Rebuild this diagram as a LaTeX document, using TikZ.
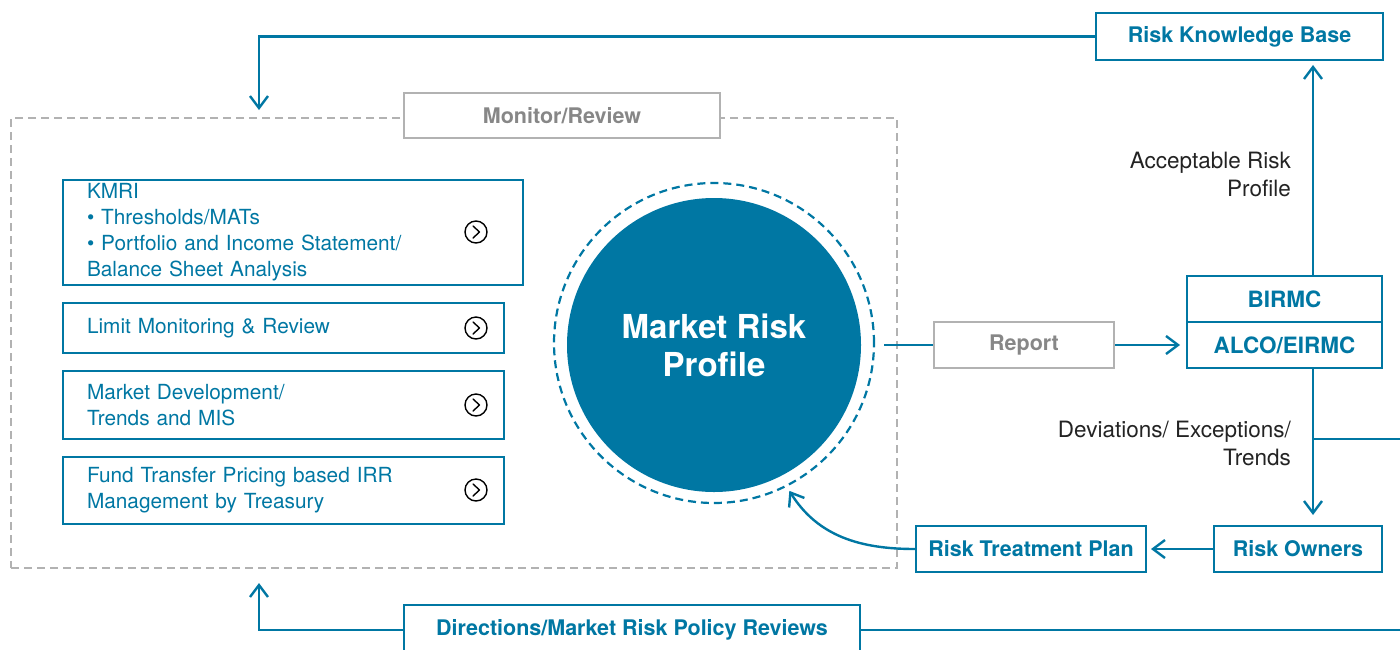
\documentclass[tikz,border=0pt]{standalone}
\usepackage{fontspec}
\setmainfont{TeX Gyre Heros}
\usetikzlibrary{arrows.meta,calc}
\definecolor{mblue}{RGB}{0,119,163}
\definecolor{mgray}{RGB}{135,135,135}
\definecolor{lgray}{RGB}{178,178,178}
\definecolor{dtext}{RGB}{35,35,35}
\begin{document}
\begin{tikzpicture}[x=1pt,y=-1pt,
  conn/.style={draw=mblue,line width=2.4pt},
  arr/.style={conn,-{Straight Barb[length=12pt,width=18pt,line width=2.4pt]}},
  listbox/.style={draw=mblue,line width=2pt,text=mblue,align=left,inner xsep=24pt,inner ysep=0pt,
    font=\fontsize{20.8}{26}\selectfont,anchor=center},
  rbox/.style={draw=mblue,line width=2pt,fill=white,text=mblue,inner sep=0pt,minimum height=46pt,
    font=\bfseries\fontsize{21.5}{24}\selectfont},
  gbox/.style={draw=lgray,line width=2pt,fill=white,text=mgray,inner sep=0pt,
    font=\bfseries\fontsize{21.5}{24}\selectfont},
  icon/.style={circle,draw=black,line width=1.4pt,minimum size=22pt,inner sep=0pt},
  note/.style={text=dtext,align=right,anchor=east,font=\fontsize{22.5}{28}\selectfont,inner sep=0pt}
]
\useasboundingbox (0,0) rectangle (1400,649);

% frame
\node[draw=lgray,line width=2pt,dash pattern=on 8pt off 5pt,minimum width=886pt,minimum height=450pt,inner sep=0pt] (frame) at (454,343) {};
\node[gbox,minimum width=316pt,minimum height=45pt] (mon) at (562,115.5) {Monitor/Review};

% list boxes
\node[listbox,text width=412pt,minimum height=105pt] (kmri) at (293,232.5)
  {KMRI\\\textbullet\ Thresholds/MATs\\\textbullet\ Portfolio and Income Statement/\\Balance Sheet Analysis};
\node[listbox,text width=393pt,minimum height=50pt] (lim) at (283.5,328) {Limit Monitoring \& Review};
\node[listbox,text width=393pt,minimum height=68pt] (mkt) at (283.5,405) {Market Development/\\Trends and MIS};
\node[listbox,text width=393pt,minimum height=67pt] (fund) at (283.5,490.5) {Fund Transfer Pricing based IRR\\Management by Treasury};

\foreach \n/\yy in {i1/232,i2/328,i3/405,i4/490}{
  \node[icon] (\n) at (476,\yy) {};
  \draw[line width=1.4pt,line cap=round,line join=round] ($(\n)+(-3,-6)$) -- ($(\n)+(3.5,0)$) -- ($(\n)+(-3,6)$);
}

% central circle
\node[circle,draw=mblue,line width=2.2pt,dash pattern=on 8pt off 5pt,minimum size=320pt,inner sep=0pt] (ring) at (714,343) {};
\node[circle,fill=mblue,minimum size=294pt,inner sep=0pt,text=white,align=center,
  font=\bfseries\fontsize{33}{38}\selectfont] (mrp) at (714,345) {Market Risk\\Profile};

% right side
\node[rbox,minimum width=287pt,minimum height=47pt] (rkb) at (1239.5,36.5) {Risk Knowledge Base};
\node[gbox,minimum width=180pt,minimum height=46pt] (rep) at (1024,345) {Report};
\node[rbox,minimum width=195pt,font=\bfseries\fontsize{22.5}{24}\selectfont] (birmc) at (1284.5,299) {BIRMC};
\node[rbox,minimum width=195pt,font=\bfseries\fontsize{22.5}{24}\selectfont] (alco) at (1284.5,345) {ALCO/EIRMC};
\node[rbox,minimum width=168pt] (rto) at (1298,549) {Risk Owners};
\node[rbox,minimum width=230pt] (rtp) at (1031,549) {Risk Treatment Plan};
\node[rbox,minimum width=456pt,minimum height=50pt] (dir) at (632,630) {Directions/Market Risk Policy Reviews};

\node[note] (acc) at (1291,174) {Acceptable Risk\\Profile};
\node[note] (dev) at (1291,443) {Deviations/ Exceptions/\\Trends};

% coordinates
\coordinate (vx) at (1313,0);
\coordinate (hx) at (884,0);
\coordinate (topin) at (259,110);
\coordinate (botin) at (259,583);
\coordinate (br) at (1313,439);
\coordinate (redge) at (1400,439);
\coordinate (bedge) at (1400,630);

% connectors
\draw[arr] (rkb.west) -| (topin);
\draw[arr] (birmc.north -| vx) -- ([yshift=-4pt]rkb.south -| vx);
\draw[conn] (rep.west -| hx) -- (rep.west);
\draw[arr] (rep.east) -- ([xshift=-6pt]alco.west);
\draw[arr] (alco.south -| vx) -- ([yshift=10pt]rto.north -| vx);
\draw[conn] (br) -- (redge);
\draw[arr] (rto.west) -- ([xshift=4pt]rtp.east);
\draw[arr] (rtp.west) to[out=180,in=-58] ($(ring.center)!1.03!(ring.-63)$);
\draw[conn] (bedge) -- (dir.east);
\draw[arr] (dir.west) -| (botin);
\end{tikzpicture}
\end{document}
